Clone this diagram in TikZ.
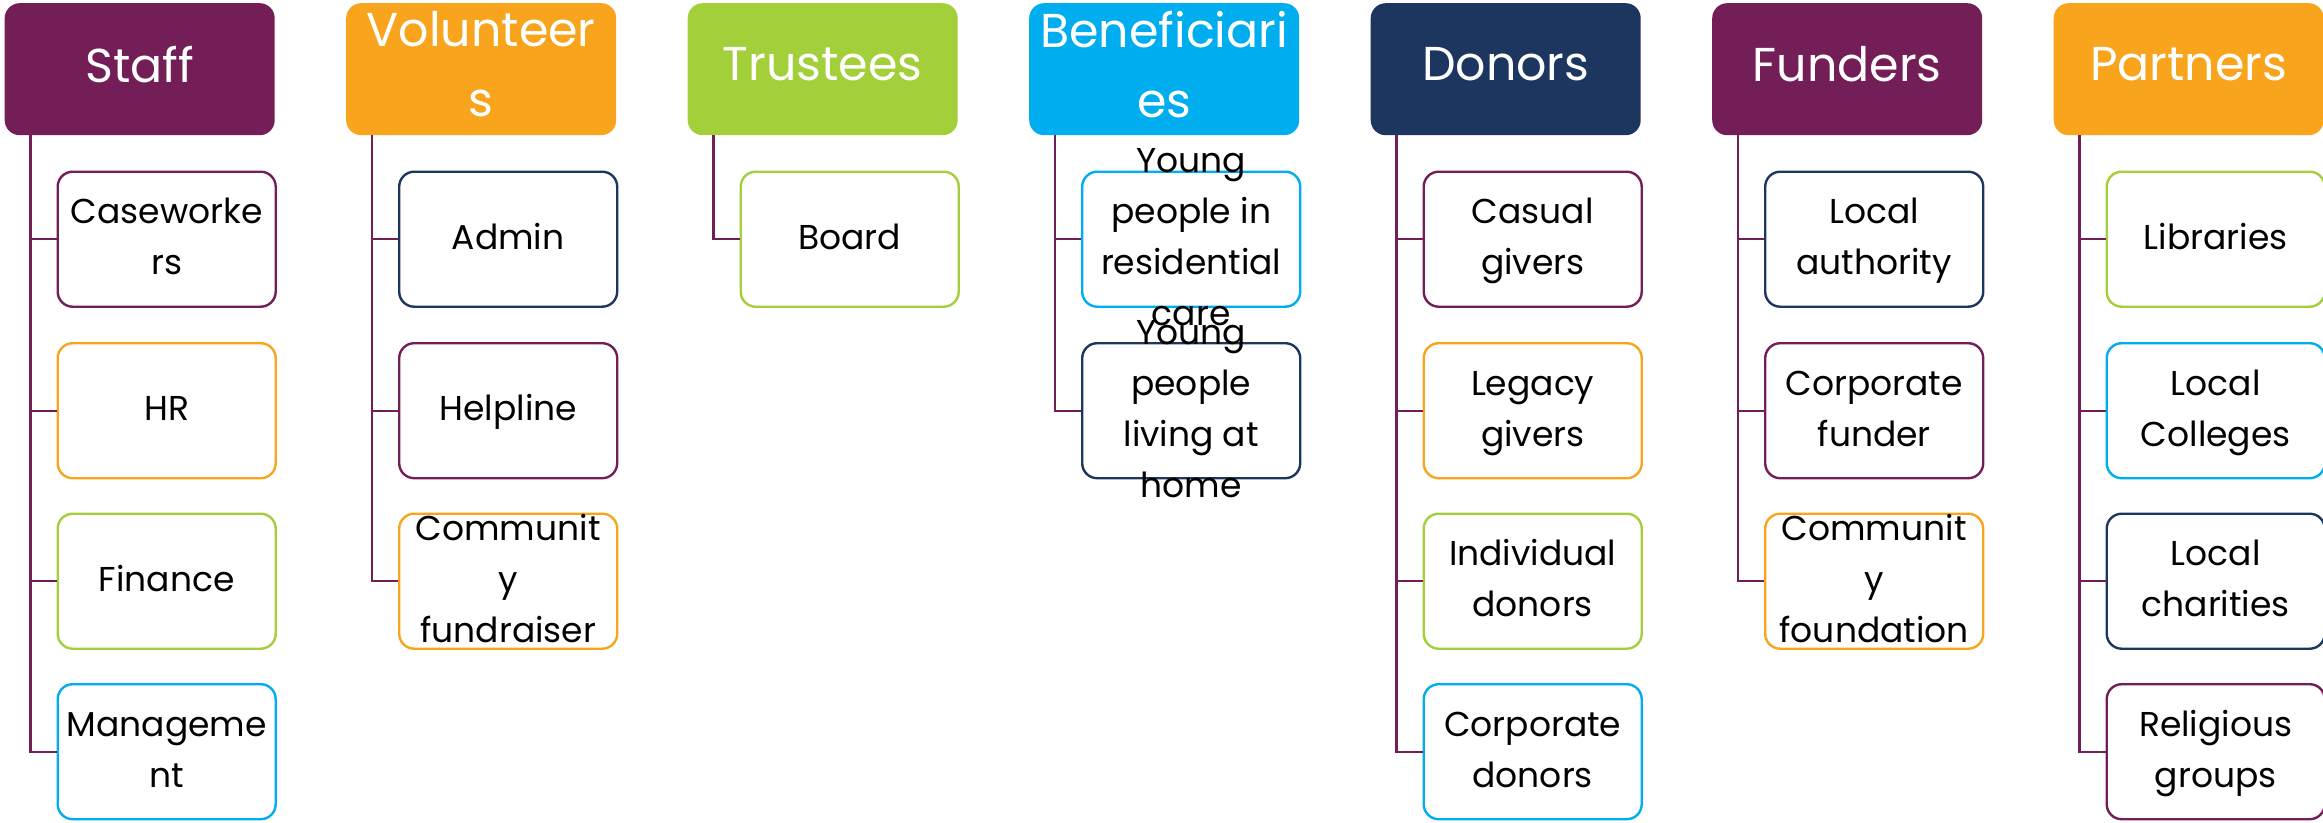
\documentclass[tikz,border=0pt]{standalone}
\usepackage{fontspec}
\setmainfont{Poppins}
\definecolor{cpurple}{HTML}{731E57}
\definecolor{corange}{HTML}{F8A51D}
\definecolor{cgreen}{HTML}{A3CF3B}
\definecolor{ccyan}{HTML}{00AEEF}
\definecolor{cnavy}{HTML}{1C365F}
\tikzset{
  headbox/.style={fill=#1, rounded corners=15pt, minimum width=270pt, minimum height=132pt,
    anchor=north west, inner sep=0pt},
  headtext/.style={text=white, font=\fontsize{47.5}{70}\selectfont, align=center, inner sep=0pt},
  leafbox/.style={draw=#1, line width=2.4pt, rounded corners=15pt, minimum width=218pt,
    minimum height=135pt, anchor=north west, inner sep=0pt},
  leaftext/.style={text=black, font=\fontsize{34.5}{51}\selectfont, align=center, inner sep=0pt},
  conn/.style={draw=cpurple, line width=2.2pt}
}
% a header box with its caption
\newcommand\headnode[4]{%
  \node[headbox=#2] (#1) at (#3) {};
  \node[headtext] (#1-l) at ([yshift=5pt]#1.center) {#4};}
% a member box with its caption (struts keep the lines centred alike)
\newcommand\leafnode[4]{%
  \node[leafbox=#2] (#1) at (#3) {};
  \node[leaftext] (#1-l) at (#1.center) {\strut #4\strut};}
\begin{document}
\begin{tikzpicture}[x=1pt,y=-1pt]
\useasboundingbox (0,0) rectangle (2323,822);
% header boxes, one per column
\headnode{staff}{cpurple}{4.5,3}{Staff}
\headnode{vol}{corange}{346,3}{Volunteer\\s}
\headnode{tru}{cgreen}{687.5,3}{Trustees}
\headnode{ben}{ccyan}{1029,3}{Beneficiari\\es}
\headnode{don}{cnavy}{1370.5,3}{Donors}
\headnode{fun}{cpurple}{1712,3}{Funders}
\headnode{par}{corange}{2053.5,3}{Partners}
% trunk start points under each header
\foreach \h in {staff,vol,tru,ben,don,fun,par}
  \coordinate (\h-t) at ([xshift=26pt]\h.south west);
% Staff
\leafnode{s1}{cpurple}{56.5,170.5}{Caseworke\\rs}
\leafnode{s2}{corange}{56.5,342}{HR}
\leafnode{s3}{cgreen}{56.5,512.5}{Finance}
\leafnode{s4}{ccyan}{56.5,683}{Manageme\\nt}
% Volunteers
\leafnode{v1}{cnavy}{398,170.5}{Admin}
\leafnode{v2}{cpurple}{398,342}{Helpline}
\leafnode{v3}{corange}{398,512.5}{Communit\\y\\fundraiser}
% Trustees
\leafnode{t1}{cgreen}{739.5,170.5}{Board}
% Beneficiaries
\leafnode{b1}{ccyan}{1081,170.5}{Young\\people in\\residential\\care}
\leafnode{b2}{cnavy}{1081,342}{Young\\people\\living at\\home}
% Donors
\leafnode{d1}{cpurple}{1422.5,170.5}{Casual\\givers}
\leafnode{d2}{corange}{1422.5,342}{Legacy\\givers}
\leafnode{d3}{cgreen}{1422.5,512.5}{Individual\\donors}
\leafnode{d4}{ccyan}{1422.5,683}{Corporate\\donors}
% Funders
\leafnode{f1}{cnavy}{1764,170.5}{Local\\authority}
\leafnode{f2}{cpurple}{1764,342}{Corporate\\funder}
\leafnode{f3}{corange}{1764,512.5}{Communit\\y\\foundation}
% Partners
\leafnode{p1}{cgreen}{2105.5,170.5}{Libraries}
\leafnode{p2}{ccyan}{2105.5,342}{Local\\Colleges}
\leafnode{p3}{cnavy}{2105.5,512.5}{Local\\charities}
\leafnode{p4}{cpurple}{2105.5,683}{Religious\\groups}
% connectors
\foreach \c in {s1,s2,s3,s4} \draw[conn] (staff-t) |- (\c.west);
\foreach \c in {v1,v2,v3} \draw[conn] (vol-t) |- (\c.west);
\draw[conn] (tru-t) |- (t1.west);
\foreach \c in {b1,b2} \draw[conn] (ben-t) |- (\c.west);
\foreach \c in {d1,d2,d3,d4} \draw[conn] (don-t) |- (\c.west);
\foreach \c in {f1,f2,f3} \draw[conn] (fun-t) |- (\c.west);
\foreach \c in {p1,p2,p3,p4} \draw[conn] (par-t) |- (\c.west);
\end{tikzpicture}
\end{document}
